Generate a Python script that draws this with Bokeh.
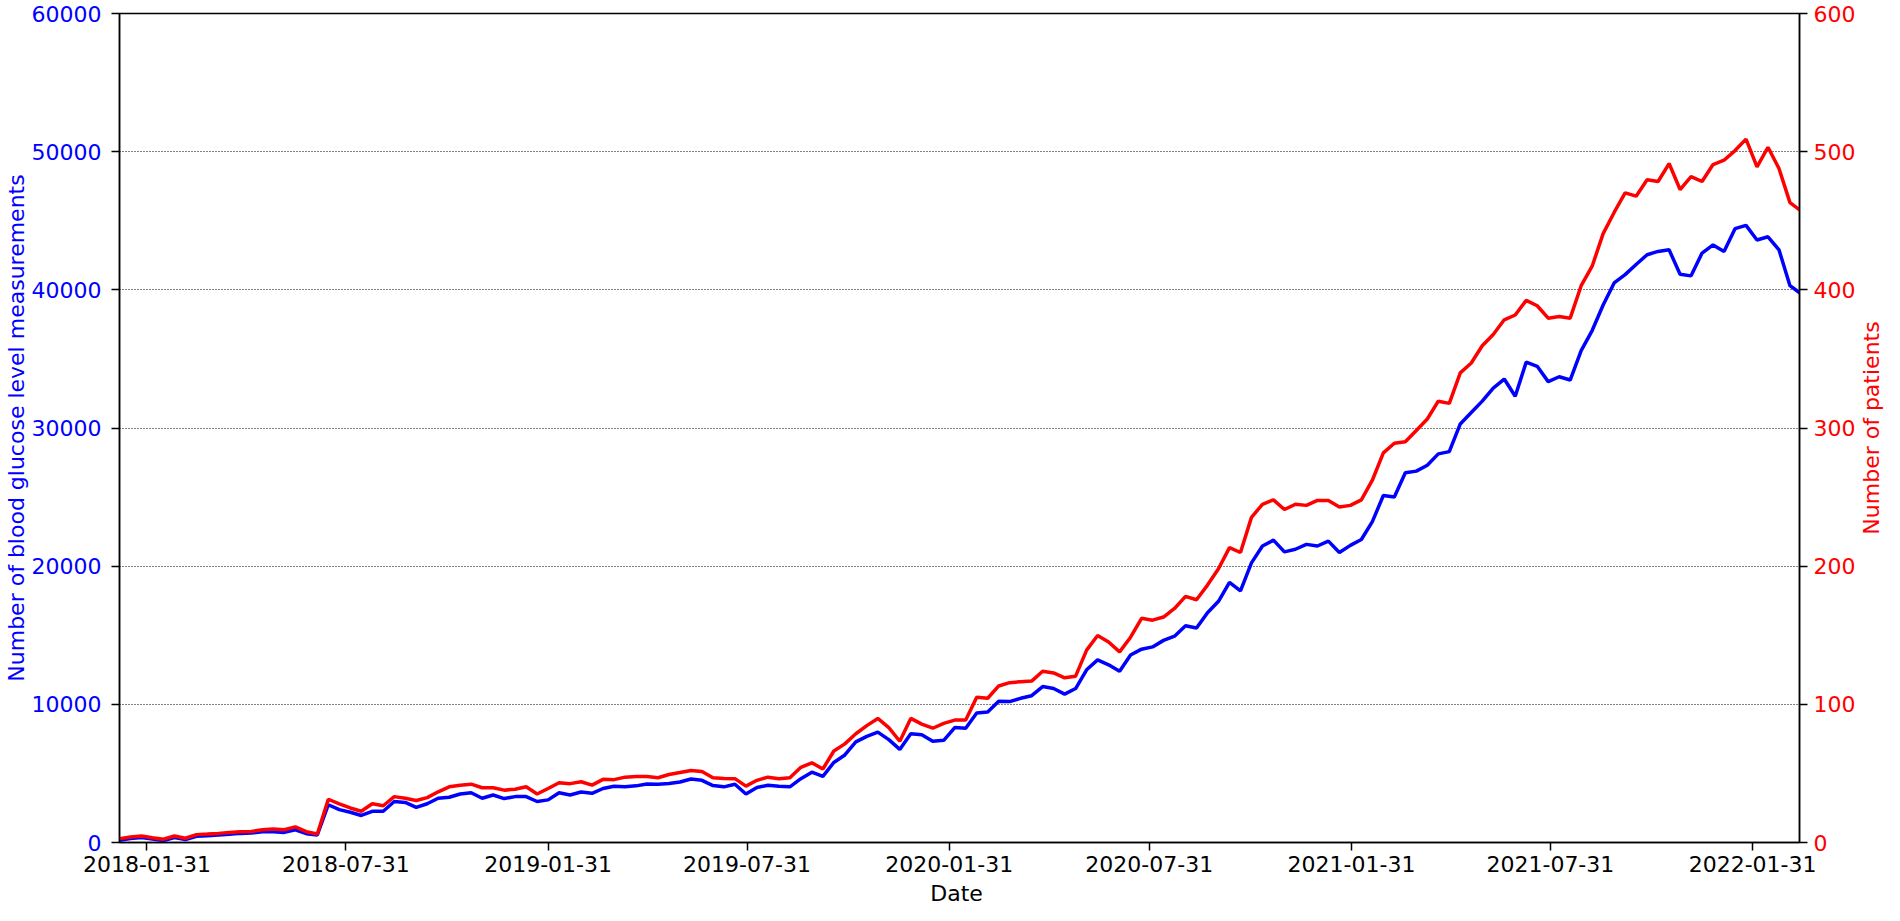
import math
import pandas as pd
from bokeh.plotting import figure
from bokeh.layouts import row, column
from bokeh.models import (Range1d, LinearAxis, FixedTicker, DatetimeTickFormatter,
                          NumeralTickFormatter, ColumnDataSource)
from bokeh.core.properties import value
from bokeh.embed import file_html
from bokeh.resources import INLINE

# ---------------- data ----------------
START_DATE = "2018-01-06"      # first sample
SAMPLE_STEP = "10D"            # samples every 10 days
X_START = "2018-01-06"
X_END = "2022-03-14 16:00"

TICK_DATES = ["2018-01-31", "2018-07-31", "2019-01-31", "2019-07-31", "2020-01-31",
              "2020-07-31", "2021-01-31", "2021-07-31", "2022-01-31"]
GLUCOSE_TICKS = [0, 10000, 20000, 30000, 40000, 50000, 60000]
PATIENT_TICKS = [0, 100, 200, 300, 400, 500, 600]

X_LABEL = "Date"
LEFT_LABEL = "Number of blood glucose level measurements"
RIGHT_LABEL = "Number of patients"

measurements = [
    165, 283, 353, 259, 141, 353, 212, 447, 495, 542,
    589, 660, 683, 777, 777, 730, 919, 636, 542, 2733,
    2379, 2191, 1955, 2261, 2261, 2968, 2897, 2544, 2803, 3204,
    3274, 3510, 3604, 3204, 3439, 3180, 3321, 3321, 2968, 3086,
    3604, 3439, 3651, 3557, 3910, 4075, 4028, 4099, 4240, 4217,
    4264, 4382, 4594, 4499, 4122, 4028, 4217, 3510, 3981, 4146,
    4075, 4028, 4617, 5088, 4782, 5795, 6337, 7279, 7680, 7986,
    7444, 6737, 7868, 7797, 7326, 7397, 8316, 8268, 9376, 9446,
    10224, 10200, 10436, 10624, 11284, 11142, 10742, 11142, 12500, 13215,
    12862, 12391, 13569, 13993, 14157, 14629, 14935, 15689, 15524, 16631,
    17455, 18822, 18209, 20235, 21460, 21884, 21036, 21225, 21578, 21460,
    21813, 20989, 21507, 21931, 23227, 25111, 25000, 26759, 26878, 27302,
    28127, 28289, 30296, 31118, 31943, 32883, 33544, 32296, 34770, 34464,
    33356, 33709, 33473, 35597, 37053, 38900, 40500, 41100, 41837, 42543,
    42779, 42897, 41130, 41011, 42661, 43250, 42779, 44429, 44663, 43604,
    43839, 42897, 40302, 39716,
]

patients = [
    2.8, 4.0, 4.7, 3.5, 2.4, 4.7, 3.1, 5.7, 6.1, 6.6,
    7.3, 7.8, 8.0, 9.2, 9.7, 9.2, 11.3, 7.8, 6.1, 31.3,
    28.0, 25.0, 22.6, 28.0, 26.6, 33.2, 32.0, 30.4, 32.5, 36.7,
    40.3, 41.5, 42.2, 39.6, 39.6, 37.9, 38.6, 40.3, 35.1, 39.1,
    43.3, 42.6, 44.0, 41.5, 45.7, 45.5, 47.3, 47.8, 47.8, 46.9,
    49.2, 50.6, 52.1, 51.4, 46.9, 46.4, 46.2, 40.8, 45.0, 47.3,
    46.2, 46.9, 54.4, 57.7, 53.2, 66.2, 71.4, 78.7, 84.6, 89.8,
    83.2, 73.3, 89.8, 85.7, 82.7, 86.2, 88.6, 88.6, 105.1, 104.4,
    113.3, 115.7, 116.4, 116.8, 123.9, 122.7, 119.2, 120.4, 139.2, 149.8,
    145.1, 138.0, 148.6, 162.3, 160.9, 163.2, 169.4, 178.1, 175.7, 186.3,
    198.1, 213.4, 209.9, 235.3, 244.8, 248.0, 241.0, 244.8, 244.0, 247.6,
    247.6, 242.9, 244.0, 248.0, 262.2, 282.0, 289.0, 290.0, 298.2, 306.5,
    319.4, 317.8, 339.9, 347.0, 359.5, 367.7, 378.3, 381.8, 392.4, 388.5,
    379.5, 380.7, 379.5, 403.0, 417.1, 440.7, 456.0, 470.2, 467.8, 479.6,
    478.4, 491.4, 472.6, 482.0, 478.4, 490.7, 493.8, 500.8, 509.1, 489.0,
    503.2, 487.8, 463.1, 457.2,
]

# ---------------- chart ----------------
dates = pd.date_range(START_DATE, periods=len(measurements), freq=SAMPLE_STEP)
src = ColumnDataSource(data=dict(date=dates, measurements=measurements, patients=patients))


def ms(d):
    return pd.Timestamp(d).timestamp() * 1000.0


FONT = "DejaVu Sans"
FS = "22px"
BLUE = "#0000ff"
RED = "#ff0000"
W_MAIN, W_SIDE = 1858, 26
H_MAIN, H_FOOT = 881, 24
TOP, BOTTOM = 13, 39
LEFT, RIGHT = 110, 56

x0, x1 = ms(X_START), ms(X_END)

p = figure(width=W_MAIN, height=H_MAIN, x_axis_type="datetime",
           x_range=Range1d(x0, x1),
           y_range=Range1d(GLUCOSE_TICKS[0], GLUCOSE_TICKS[-1]),
           output_backend="svg", toolbar_location=None,
           min_border_left=LEFT, min_border_right=RIGHT,
           min_border_top=TOP, min_border_bottom=BOTTOM)
p.background_fill_color = "white"
p.border_fill_color = "white"
p.outline_line_color = "black"
p.outline_line_width = 1.5

p.extra_y_ranges = {"patients": Range1d(PATIENT_TICKS[0], PATIENT_TICKS[-1])}

# grid
p.xgrid.grid_line_color = None
p.ygrid.ticker = FixedTicker(ticks=GLUCOSE_TICKS)
p.ygrid.grid_line_color = "black"
p.ygrid.grid_line_dash = "1 2"
p.ygrid.grid_line_width = 1

# x axis
xa = p.xaxis[0]
xa.ticker = FixedTicker(ticks=[ms(d) for d in TICK_DATES])
fmt = "%Y-%m-%d"
xa.formatter = DatetimeTickFormatter(microseconds=fmt, milliseconds=fmt, seconds=fmt,
                                     minsec=fmt, minutes=fmt, hourmin=fmt, hours=fmt,
                                     days=fmt, months=fmt, years=fmt)
xa.major_label_text_color = "black"

# left axis
ya = p.yaxis[0]
ya.ticker = FixedTicker(ticks=GLUCOSE_TICKS)
ya.formatter = NumeralTickFormatter(format="0")
ya.axis_label = LEFT_LABEL
ya.major_label_text_color = BLUE
ya.axis_label_text_color = BLUE

# right axis
ra = LinearAxis(y_range_name="patients", ticker=FixedTicker(ticks=PATIENT_TICKS),
                formatter=NumeralTickFormatter(format="0"))
ra.major_label_text_color = RED
p.add_layout(ra, "right")

for ax in (xa, ya, ra):
    ax.axis_line_color = "black"
    ax.axis_line_width = 1.5
    ax.major_tick_line_color = "black"
    ax.major_tick_line_width = 1.5
    ax.major_tick_out = 8
    ax.major_tick_in = 0
    ax.minor_tick_out = 0
    ax.minor_tick_in = 0
    ax.major_label_text_font = FONT
    ax.major_label_text_font_size = FS
    ax.axis_label_text_font = FONT
    ax.axis_label_text_font_size = FS
    ax.axis_label_text_font_style = "normal"

if "major_label_text_line_height" in xa.properties():
    xa.major_label_text_line_height = 1.0

xa.major_label_standoff = 5
ya.major_label_standoff = 10
ya.axis_label_standoff = 0
ra.major_label_standoff = 6

p.line(x="date", y="measurements", source=src, line_color=BLUE, line_width=3.5)
p.line(x="date", y="patients", source=src, line_color=RED, line_width=3.5,
       y_range_name="patients")


def strip(width, height, **borders):
    f = figure(width=width, height=height, output_backend="svg", toolbar_location=None,
               x_axis_location=None, y_axis_location=None, **borders)
    f.outline_line_color = None
    f.grid.visible = False
    f.background_fill_color = "white"
    f.border_fill_color = "white"
    return f


# right-hand axis title (reads bottom to top), aligned with the main frame
t = strip(W_SIDE, H_MAIN, x_range=Range1d(-1, 1), y_range=Range1d(-1, 1),
          min_border_left=0, min_border_right=0,
          min_border_top=TOP, min_border_bottom=BOTTOM)
t.text(x=[0], y=[0], text=[RIGHT_LABEL], angle=math.pi / 2,
       text_align="center", text_baseline="middle",
       text_font=value(FONT), text_font_size=value(FS), text_color=RED)

# x-axis title, centred under the main frame
b = strip(W_MAIN + W_SIDE, H_FOOT, x_range=p.x_range, y_range=Range1d(-1, 1),
          min_border_left=LEFT, min_border_right=RIGHT + W_SIDE,
          min_border_top=0, min_border_bottom=0)
b.text(x=[(x0 + x1) / 2], y=[0], text=[X_LABEL],
       text_align="center", text_baseline="middle",
       text_font=value(FONT), text_font_size=value(FS), text_color="black")

layout = column(row(p, t), b)
open("out.html", "w").write(file_html(layout, INLINE))
